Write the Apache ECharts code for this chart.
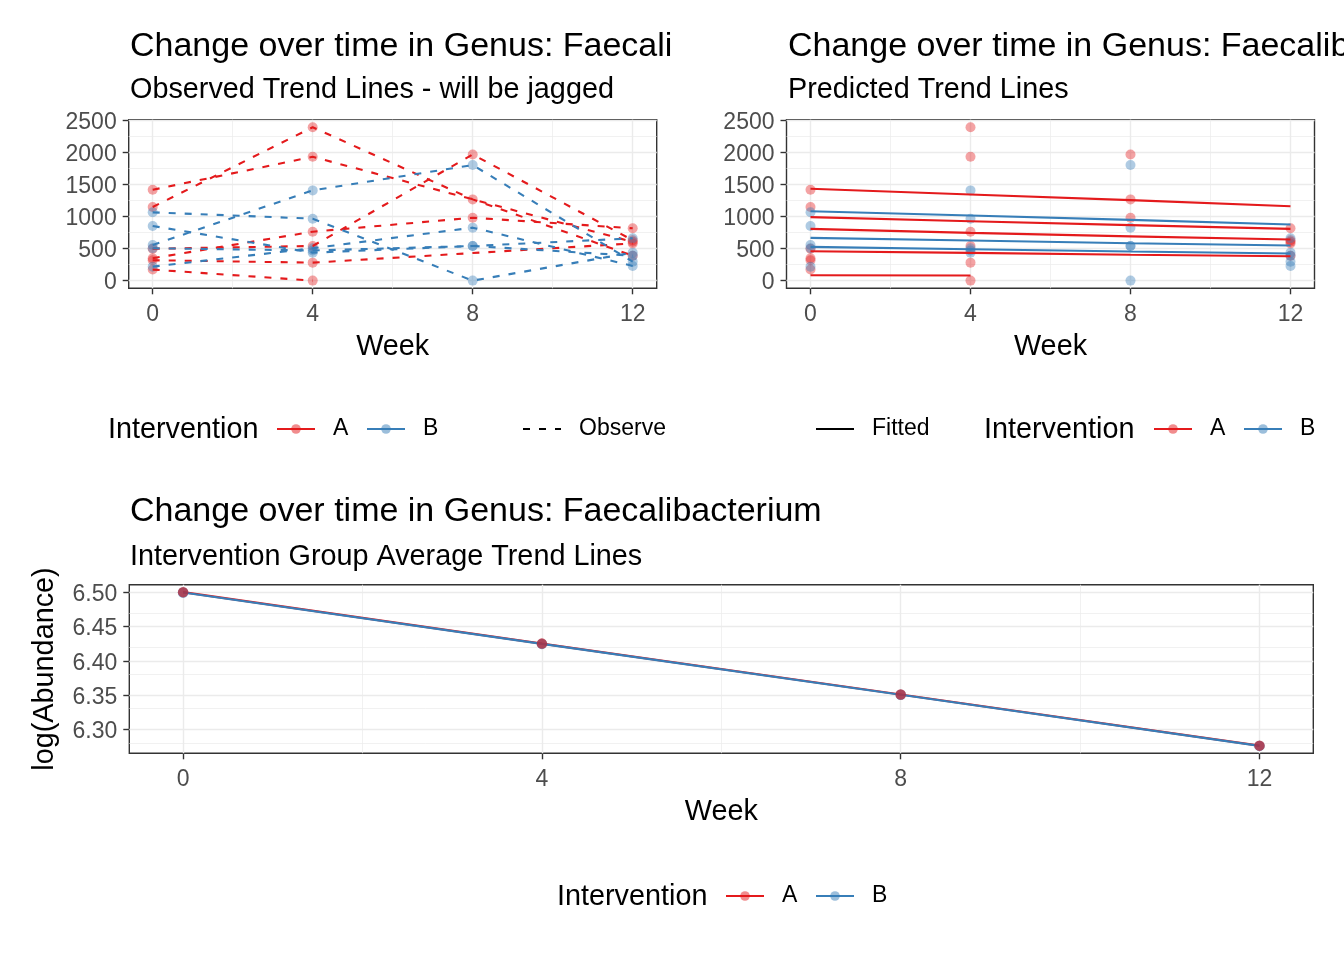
<!DOCTYPE html>
<html><head><meta charset="utf-8">
<script src="https://cdn.jsdelivr.net/npm/echarts@6/dist/echarts.min.js"></script>
<style>html,body{margin:0;padding:0;background:#fff}#c{width:1344px;height:960px}</style>
</head><body><div id="c"></div>
<script>
// ---------- data ----------
const weeks = [0, 4, 8, 12];
const weekTicks = [0, 4, 8, 12];
const weekMinor = [2, 6, 10];
const abundTicks = [0, 500, 1000, 1500, 2000, 2500];
const abundMinor = [250, 750, 1250, 1750, 2250];
const logTicks = [6.30, 6.35, 6.40, 6.45, 6.50];
const logMinor = [6.275, 6.325, 6.375, 6.425, 6.475];

// observed abundance per subject at weeks 0/4/8/12 (null = not sampled)
const obsA1 = [1417, 1931, null, 605];
const obsA2 = [1148, 2392, 1267, 389];
const obsA3 = [497, 540, 1968, 630];
const obsA4 = [349, 763, 981, 816];
const obsA5 = [318, 280, null, 580];
const obsA6 = [172, 0, null, null];
const obsB1 = [1065, 966, 0, 436];
const obsB2 = [852, 436, 540, 660];
const obsB3 = [556, 1407, 1802, 296];
const obsB4 = [218, 505, 826, 229];
const obsB5 = [505, 470, 540, 389];

// fitted (predicted) trend per subject
const fitA1 = [1432, 1344, 1255, 1161];
const fitA2 = [990, 927, 865, 807];
const fitA3 = [807, 745, 690, 641];
const fitA4 = [458, 432, 404, 380];
const fitA5 = [83, 79, null, null];
const fitB1 = [1083, 1016, 948, 875];
const fitB2 = [667, 625, 583, 547];
const fitB3 = [526, 490, 453, 422];

// group average of log(Abundance)
const meanA = [6.5003, 6.4251, 6.3508, 6.2760];
const meanB = [6.4999, 6.4247, 6.3504, 6.2756];

const obsA = [obsA1, obsA2, obsA3, obsA4, obsA5, obsA6];
const obsB = [obsB1, obsB2, obsB3, obsB4, obsB5];
const fitA = [fitA1, fitA2, fitA3, fitA4, fitA5];
const fitB = [fitB1, fitB2, fitB3];

// ---------- styling ----------
const FONT = "'Liberation Sans', Arial, Helvetica, sans-serif";
const RED = '#E41A1C', BLUE = '#377EB8';
const RED_A = 'rgba(228,26,28,0.5)', BLUE_A = 'rgba(55,126,184,0.5)';
const GRID_C = '#EBEBEB';
const TITLE = 'Change over time in Genus: Faecalibacterium';

const pairs = v => weeks.map((w, i) => [w, v[i]]).filter(p => p[1] !== null);

function gridSeries(gi, yMajor, yMinor) {
  const d = [];
  yMinor.forEach(v => d.push({ yAxis: v, lineStyle: { color: GRID_C, width: 0.7, type: 'solid' } }));
  weekMinor.forEach(v => d.push({ xAxis: v, lineStyle: { color: GRID_C, width: 0.7, type: 'solid' } }));
  yMajor.forEach(v => d.push({ yAxis: v, lineStyle: { color: GRID_C, width: 1.4, type: 'solid' } }));
  weekTicks.forEach(v => d.push({ xAxis: v, lineStyle: { color: GRID_C, width: 1.4, type: 'solid' } }));
  return {
    type: 'line', name: 'grid' + gi, xAxisIndex: gi, yAxisIndex: gi, data: [], silent: true, z: 1,
    markLine: { silent: true, z: 1, symbol: ['none', 'none'], label: { show: false }, animation: false,
      emphasis: { disabled: true }, data: d }
  };
}

function lineS(v, color, dash, gi, z) {
  return { type: 'line', name: 'subj', xAxisIndex: gi, yAxisIndex: gi, data: pairs(v), symbol: 'none',
    silent: true, z: z, lineStyle: { color: color, width: 2.1, type: dash ? [7, 9] : 'solid' } };
}
function pointS(list, color, gi, z, size) {
  return { type: 'scatter', name: 'pts', xAxisIndex: gi, yAxisIndex: gi, data: list.flatMap(pairs),
    symbol: 'circle', symbolSize: size || 10, silent: true, z: z, itemStyle: { color: color } };
}

function xAx(gi) {
  return { gridIndex: gi, type: 'value', min: -0.6, max: 12.6,
    splitLine: { show: false }, axisLine: { show: false, onZero: false },
    axisTick: { show: true, length: 6, lineStyle: { color: '#333333', width: 1.4 }, customValues: weekTicks },
    axisLabel: { customValues: weekTicks, color: '#4D4D4D', fontSize: 23, margin: 15, fontFamily: FONT,
      formatter: v => String(v) },
    name: 'Week', nameLocation: 'middle', nameGap: 44,
    nameTextStyle: { fontSize: 28.8, color: '#000', fontFamily: FONT } };
}
function yAx(gi, min, max, ticks, fmt, name) {
  const a = { gridIndex: gi, type: 'value', min: min, max: max,
    splitLine: { show: false }, axisLine: { show: false, onZero: false },
    axisTick: { show: true, length: 6, lineStyle: { color: '#333333', width: 1.4 }, customValues: ticks },
    axisLabel: { customValues: ticks, color: '#4D4D4D', fontSize: 23, margin: 12, fontFamily: FONT,
      formatter: fmt, verticalAlign: 'top', lineHeight: 5 } };
  if (name) {
    a.name = name; a.nameLocation = 'middle'; a.nameRotate = 90; a.nameGap = 70;
    a.nameTextStyle = { fontSize: 28.8, color: '#000', fontFamily: FONT };
  }
  return a;
}

function legendItem(name, left, cy, extra) {
  const ts = { fontSize: 23, color: '#000', fontFamily: FONT, padding: [0, 0, 0, 13], lineHeight: 24 };
  Object.assign(ts, extra || {});
  return { data: [name], left: left, top: cy - 12, padding: 0, itemWidth: 38, itemHeight: 12, itemGap: 0,
    selectedMode: false, textStyle: ts };
}

function titleItem(text, left, top, size, width) {
  const ts = { fontSize: size, lineHeight: size, fontWeight: 'normal', color: '#000', fontFamily: FONT };
  if (width) { ts.width = width; ts.overflow = 'truncate'; ts.ellipsis = ''; }
  return { text: text, left: left, top: top, padding: 0, textStyle: ts };
}

const series = [];
// panel 0: observed
series.push(gridSeries(0, abundTicks, abundMinor));
series.push(pointS(obsA, RED_A, 0, 3));
series.push(pointS(obsB, BLUE_A, 0, 3));
obsA.forEach(v => series.push(lineS(v, RED, true, 0, 4)));
obsB.forEach(v => series.push(lineS(v, BLUE, true, 0, 4)));
// panel 1: fitted
series.push(gridSeries(1, abundTicks, abundMinor));
series.push(pointS(obsA, RED_A, 1, 3));
series.push(pointS(obsB, BLUE_A, 1, 3));
fitA.forEach(v => series.push(lineS(v, RED, false, 1, 4)));
fitB.forEach(v => series.push(lineS(v, BLUE, false, 1, 4)));
// panel 2: group means
series.push(gridSeries(2, logTicks, logMinor));
series.push(lineS(meanA, RED, false, 2, 2));
series.push(lineS(meanB, BLUE, false, 2, 3));
series.push(pointS([meanB], 'rgba(55,126,184,0.9)', 2, 4, 10.5));
series.push(pointS([meanA], 'rgba(200,28,40,0.85)', 2, 5, 10.5));
// legend key series
series.push({ type: 'line', name: 'A', data: [], xAxisIndex: 0, yAxisIndex: 0, symbol: 'circle', symbolSize: 10,
  lineStyle: { color: RED, width: 2 }, itemStyle: { color: RED_A } });
series.push({ type: 'line', name: 'B', data: [], xAxisIndex: 0, yAxisIndex: 0, symbol: 'circle', symbolSize: 10,
  lineStyle: { color: BLUE, width: 2 }, itemStyle: { color: BLUE_A } });
series.push({ type: 'line', name: 'Observed', data: [], xAxisIndex: 0, yAxisIndex: 0, symbol: 'none',
  lineStyle: { color: '#000', width: 2, type: [7, 9] }, itemStyle: { color: 'rgba(0,0,0,0)' } });
series.push({ type: 'line', name: 'Fitted', data: [], xAxisIndex: 0, yAxisIndex: 0, symbol: 'none',
  lineStyle: { color: '#000', width: 2 }, itemStyle: { color: 'rgba(0,0,0,0)' } });

const gridBase = { show: true, backgroundColor: '#fff', borderColor: '#333333', borderWidth: 1.4,
  containLabel: false, outerBoundsMode: 'none' };

const option = {
  animation: false,
  backgroundColor: '#fff',
  title: [
    titleItem(TITLE, 130, 30, 34, 547),
    titleItem('Observed Trend Lines - will be jagged', 130, 76, 28.8),
    titleItem(TITLE, 788, 30, 34),
    titleItem('Predicted Trend Lines', 788, 76, 28.8),
    titleItem(TITLE, 130, 495, 34),
    titleItem('Intervention Group Average Trend Lines', 130, 542.6, 28.8)
  ],
  grid: [
    Object.assign({ left: 128.7, top: 119.7, width: 528, height: 168.6 }, gridBase),
    Object.assign({ left: 786.5, top: 119.7, width: 528, height: 168.6 }, gridBase),
    Object.assign({ left: 129.3, top: 584.7, width: 1184, height: 168.6 }, gridBase)
  ],
  xAxis: [xAx(0), xAx(1), xAx(2)],
  yAxis: [
    yAx(0, -120, 2510, abundTicks, v => String(v)),
    yAx(1, -120, 2510, abundTicks, v => String(v)),
    yAx(2, 6.2648, 6.5112, logTicks, v => v.toFixed(2), 'log(Abundance)')
  ],
  legend: [
    legendItem('A', 276, 429),
    legendItem('B', 366, 429),
    legendItem('Observed', 522, 429, { width: 93, overflow: 'truncate', ellipsis: '' }),
    legendItem('Fitted', 815, 429),
    legendItem('A', 1153, 429),
    legendItem('B', 1243, 429),
    legendItem('A', 725, 896),
    legendItem('B', 815, 896)
  ],
  graphic: [
    { type: 'text', x: 108, y: 430, style: { text: 'Intervention', fontSize: 28.8, fontFamily: FONT, fill: '#000', verticalAlign: 'middle', align: 'left' } },
    { type: 'text', x: 984, y: 430, style: { text: 'Intervention', fontSize: 28.8, fontFamily: FONT, fill: '#000', verticalAlign: 'middle', align: 'left' } },
    { type: 'text', x: 557, y: 897, style: { text: 'Intervention', fontSize: 28.8, fontFamily: FONT, fill: '#000', verticalAlign: 'middle', align: 'left' } }
  ],
  series: series
};

const chart = echarts.init(document.getElementById('c'), null, { renderer: 'canvas' });
chart.setOption(option);
</script>
</body></html>
